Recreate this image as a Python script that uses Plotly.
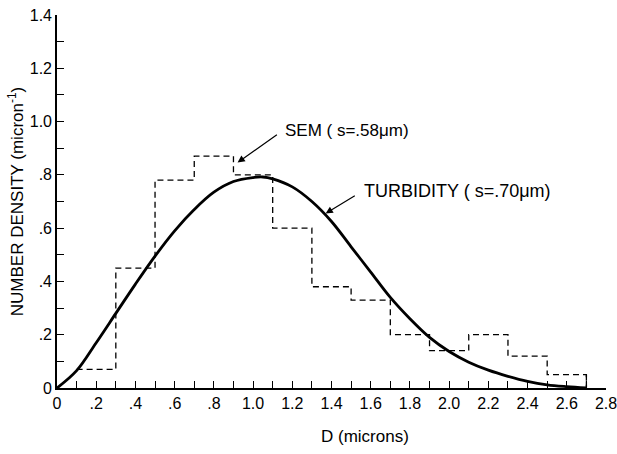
import plotly.graph_objects as go

# SEM histogram (bin edges and number density per bin)
sem_edges = [0.1, 0.3, 0.5, 0.7, 0.9, 1.1, 1.3, 1.5, 1.7, 1.9, 2.1, 2.3, 2.5, 2.7]
sem_values = [0.07, 0.45, 0.78, 0.87, 0.80, 0.60, 0.38, 0.33, 0.20, 0.14, 0.20, 0.12, 0.05, 0.0]

# Turbidity fitted distribution
turb_d = [0.0, 0.1, 0.2, 0.3, 0.4, 0.5, 0.6, 0.7, 0.8, 0.9, 1.0, 1.05, 1.1, 1.2, 1.3,
          1.4, 1.5, 1.6, 1.7, 1.8, 1.9, 2.0, 2.1, 2.2, 2.3, 2.4, 2.5, 2.6, 2.7]
turb_n = [0.0, 0.065, 0.17, 0.28, 0.39, 0.495, 0.59, 0.67, 0.735, 0.775, 0.79, 0.792, 0.785,
          0.755, 0.70, 0.625, 0.530, 0.435, 0.340, 0.260, 0.190, 0.137, 0.097, 0.067, 0.044,
          0.025, 0.012, 0.005, 0.0]

x_tickvals = [0, 0.2, 0.4, 0.6, 0.8, 1.0, 1.2, 1.4, 1.6, 1.8, 2.0, 2.2, 2.4, 2.6, 2.8]
x_ticktext = ["0", ".2", ".4", ".6", ".8", "1.0", "1.2", "1.4", "1.6", "1.8", "2.0",
              "2.2", "2.4", "2.6", "2.8"]
y_tickvals = [0, 0.2, 0.4, 0.6, 0.8, 1.0, 1.2, 1.4]
y_ticktext = ["0", ".2", ".4", ".6", ".8", "1.0", "1.2", "1.4"]

FONT = "Liberation Sans, Arial, sans-serif"
MINOR = dict(ticks="inside", ticklen=7, tickwidth=1.3, tickcolor="black",
             tickmode="linear", tick0=0, dtick=0.1, showgrid=False)

fig = go.Figure()
fig.add_trace(go.Scatter(
    x=sem_edges, y=sem_values, mode="lines", line_shape="hv",
    line=dict(color="black", width=1.3, dash="6px,4px"),
    showlegend=False, hoverinfo="skip"))
# closing vertical at the last edge
fig.add_trace(go.Scatter(
    x=[sem_edges[-1], sem_edges[-1]], y=[sem_values[-2], 0], mode="lines",
    line=dict(color="black", width=1.3, dash="6px,4px"),
    showlegend=False, hoverinfo="skip"))
fig.add_trace(go.Scatter(
    x=turb_d, y=turb_n, mode="lines", line_shape="spline",
    line=dict(color="black", width=2.8),
    showlegend=False, hoverinfo="skip"))

fig.update_layout(
    width=617, height=454,
    margin=dict(l=57, r=11, t=15, b=66),
    paper_bgcolor="white", plot_bgcolor="white",
    font=dict(family=FONT, size=18, color="black"),
    xaxis=dict(range=[0, 2.8], tickvals=x_tickvals, ticktext=x_ticktext,
               ticks="inside", ticklen=7, tickwidth=1.3, tickcolor="black",
               tickfont=dict(size=16), ticklabeloverflow="allow",
               minor=MINOR, automargin=False,
               showline=True, linecolor="black", linewidth=1.6,
               showgrid=False, zeroline=False),
    yaxis=dict(range=[0, 1.4], tickvals=y_tickvals, ticktext=y_ticktext,
               ticks="inside", ticklen=7, tickwidth=1.3, tickcolor="black",
               tickfont=dict(size=16), ticklabeloverflow="allow",
               minor=MINOR, automargin=False,
               showline=True, linecolor="black", linewidth=1.6,
               showgrid=False, zeroline=False,
               title=dict(text="NUMBER DENSITY (micron<sup>-1</sup>)", font=dict(size=17), standoff=2)),
)

# x-axis title (offset to the right as in the original)
fig.add_annotation(x=0.561, y=-0.131, xref="paper", yref="paper", text="D (microns)",
                   showarrow=False, xanchor="center", yanchor="middle", font=dict(size=17))

# labels with arrows pointing at the curves
fig.add_annotation(x=0.921, y=0.846, ax=45, ay=-32, text="SEM ( s=.58μm)",
                   xanchor="left", yanchor="middle", font=dict(size=17),
                   showarrow=True, arrowhead=2, arrowsize=1.2, arrowwidth=1.2,
                   arrowcolor="black", startstandoff=7)
fig.add_annotation(x=1.370, y=0.655, ax=36, ay=-22, text="TURBIDITY ( s=.70μm)",
                   xanchor="left", yanchor="middle", font=dict(size=18),
                   showarrow=True, arrowhead=2, arrowsize=1.2, arrowwidth=1.2,
                   arrowcolor="black", startstandoff=8)

fig.write_html("out.html", config={"displayModeBar": False},
               post_script="document.body.style.margin='0';")
